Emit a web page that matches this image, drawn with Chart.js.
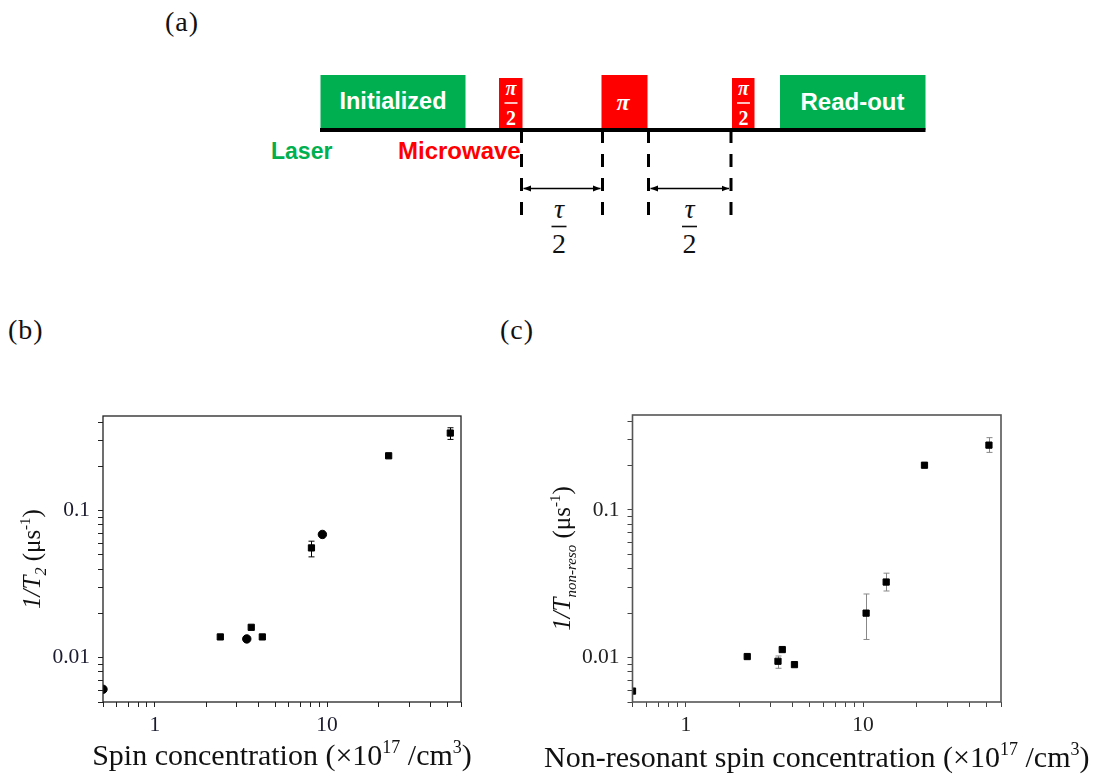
<!DOCTYPE html>
<html><head><meta charset="utf-8">
<script src="https://cdn.jsdelivr.net/npm/chart.js@4.4.1/dist/chart.umd.min.js"></script>
<style>
html,body{margin:0;padding:0;background:#fff;}
#wrap{position:relative;width:1099px;height:779px;overflow:hidden;background:#fff;}
.lbl{position:absolute;font-family:"Liberation Serif",serif;font-size:28px;letter-spacing:1px;color:#111;line-height:1;}
canvas{position:absolute;}
svg{position:absolute;left:0;top:0;}
</style></head><body>
<div id="wrap">
<svg width="1099" height="280" viewBox="0 0 1099 280">
 <defs><marker id="ah" viewBox="0 0 10 10" refX="10" refY="5" markerWidth="5" markerHeight="5" orient="auto-start-reverse"><path d="M0,1 L10,5 L0,9 z" fill="#000"/></marker></defs>
 <rect x="320.5" y="75" width="145" height="55" fill="#00b050"/>
 <rect x="499" y="78" width="23.5" height="52" fill="#ff0000"/>
 <rect x="601.5" y="75" width="46" height="55" fill="#ff0000"/>
 <rect x="732" y="78" width="22.5" height="52" fill="#ff0000"/>
 <rect x="780" y="75" width="145.5" height="55" fill="#00b050"/>
 <line x1="320" y1="130" x2="925.5" y2="130" stroke="#000" stroke-width="4"/>
 <g stroke="#000" stroke-width="3" stroke-dasharray="13 11">
  <line x1="521.5" y1="130" x2="521.5" y2="215"/>
  <line x1="602.5" y1="130" x2="602.5" y2="215"/>
  <line x1="648.5" y1="130" x2="648.5" y2="215"/>
  <line x1="731" y1="130" x2="731" y2="215"/>
 </g>
 <line x1="523.5" y1="188.5" x2="600.5" y2="188.5" stroke="#000" stroke-width="1.5" marker-start="url(#ah)" marker-end="url(#ah)"/>
 <line x1="650.5" y1="188.5" x2="729" y2="188.5" stroke="#000" stroke-width="1.5" marker-start="url(#ah)" marker-end="url(#ah)"/>
 <g font-family="Liberation Sans" font-weight="bold">
  <text x="393" y="109" font-size="24" fill="#fff" text-anchor="middle" textLength="107" lengthAdjust="spacingAndGlyphs">Initialized</text>
  <text x="852.5" y="110" font-size="24" fill="#fff" text-anchor="middle" textLength="104" lengthAdjust="spacingAndGlyphs">Read-out</text>
  <text x="271" y="159" font-size="23" fill="#00b050">Laser</text>
  <text x="398" y="158.5" font-size="24" fill="#ff0000">Microwave</text>
 </g>
 <g font-family="Liberation Serif" font-weight="bold" fill="#fff" text-anchor="middle">
  <text x="623" y="110" font-size="24" font-style="italic">π</text>
  <text x="511" y="95" font-size="20" font-style="italic">π</text>
  <text x="511" y="125" font-size="20">2</text>
  <text x="743.5" y="95" font-size="20" font-style="italic">π</text>
  <text x="743.5" y="125" font-size="20">2</text>
 </g>
 <line x1="504.5" y1="103" x2="517.5" y2="103" stroke="#fff" stroke-width="1.5"/>
 <line x1="737" y1="103" x2="750" y2="103" stroke="#fff" stroke-width="1.5"/>
 <g font-family="Liberation Serif" font-size="28" fill="#111" text-anchor="middle">
  <text x="559" y="218" font-style="italic">τ</text>
  <text x="559" y="253">2</text>
  <text x="689.5" y="218" font-style="italic">τ</text>
  <text x="689.5" y="253">2</text>
 </g>
 <line x1="551.5" y1="226.5" x2="566.5" y2="226.5" stroke="#111" stroke-width="1.6"/>
 <line x1="682" y1="226.5" x2="697" y2="226.5" stroke="#111" stroke-width="1.6"/>
</svg>
<div class="lbl" style="left:165px;top:8px">(a)</div>
<div class="lbl" style="left:8px;top:316px">(b)</div>
<div class="lbl" style="left:500px;top:316px">(c)</div>
<canvas id="cb" width="500" height="399" style="left:0;top:380px"></canvas>
<canvas id="cc" width="599" height="399" style="left:500px;top:380px"></canvas>
</div>
<script>
// ---- data ----
const xTickLabels = ['1', '10'];
const yTickLabels = ['0.01', '0.1'];
const xRange = [0.5, 60];
const yRange = [0.005, 0.44];

// panel (b)
const bSquareX = [2.40, 3.63, 4.21, 8.12, 22.8, 52.0];
const bSquareY = [0.01385, 0.0161, 0.01385, 0.0558, 0.236, 0.337];
const bSquareErrLo = [null, null, null, 0.0485, null, 0.305];
const bSquareErrHi = [null, null, null, 0.062, null, 0.366];
const bCircleX = [0.5, 3.42, 9.40];
const bCircleY = [0.0061, 0.01342, 0.0689];

// panel (c)
const cX = [0.5, 2.22, 3.31, 3.50, 4.10, 10.4, 13.5, 22.2, 51.3];
const cY = [0.00593, 0.01016, 0.00944, 0.01133, 0.00896, 0.0200, 0.0325, 0.201, 0.275];
const cErrLo = [null, null, 0.00846, null, null, 0.01326, 0.02825, null, 0.2455];
const cErrHi = [null, null, 0.01025, null, null, 0.02696, 0.0373, null, 0.309];

const SERIF = '"Liberation Serif", "Times New Roman", serif';
const f = (s, style) => (style ? style + ' ' : '') + s + 'px ' + SERIF;

const bXTitle = [
  {t: 'Spin concentration (×10', f: f(30)}, {t: '17', f: f(18), dy: -12},
  {t: ' /cm', f: f(30)}, {t: '3', f: f(18), dy: -12}, {t: ')', f: f(30)}];
const bYTitle = [
  {t: '1/T', f: f(25, 'italic')}, {t: '2', f: f(16, 'italic'), dy: 6},
  {t: ' (μs', f: f(25)}, {t: '-1', f: f(15), dy: -10}, {t: ')', f: f(25)}];
const cXTitle = [
  {t: 'Non-resonant spin concentration (×10', f: f(30)}, {t: '17', f: f(18), dy: -12},
  {t: ' /cm', f: f(30)}, {t: '3', f: f(18), dy: -12}, {t: ')', f: f(30)}];
const cYTitle = [
  {t: '1/T', f: f(25, 'italic')}, {t: 'non-reso', f: f(15, 'italic'), dy: 6},
  {t: ' (μs', f: f(25)}, {t: '-1', f: f(15), dy: -10}, {t: ')', f: f(25)}];

// ---- helpers ----
function logTicks(min, max) {
  const out = [];
  for (let e = Math.floor(Math.log10(min)); e <= Math.ceil(Math.log10(max)); e++) {
    for (let m = 1; m <= 9; m++) {
      const v = parseFloat((m * Math.pow(10, e)).toPrecision(8));
      if (v >= min * 0.999999 && v <= max * 1.000001) out.push({value: v});
    }
  }
  return out;
}
function labelFor(list) {
  return (v) => list.find(l => Math.abs(Number(l) - v) <= Math.abs(v) * 1e-6) || '';
}
function drawRuns(ctx, runs, cx, by, color) {
  ctx.save();
  ctx.fillStyle = color; ctx.textBaseline = 'alphabetic'; ctx.textAlign = 'left';
  let w = 0;
  runs.forEach(r => { ctx.font = r.f; w += ctx.measureText(r.t).width; });
  let x = cx - w / 2;
  runs.forEach(r => { ctx.font = r.f; ctx.fillText(r.t, x, by + (r.dy || 0)); x += ctx.measureText(r.t).width; });
  ctx.restore();
}

const errorBars = {
  id: 'errorBars',
  beforeDatasetsDraw(chart) {
    const {ctx, scales: {x, y}} = chart;
    chart.data.datasets.forEach(ds => {
      if (!ds.errLo) return;
      ctx.save();
      ctx.strokeStyle = ds.errColor; ctx.lineWidth = 1;
      ds.data.forEach((p, i) => {
        const lo = ds.errLo[i], hi = ds.errHi[i];
        if (lo == null) return;
        const px = Math.round(x.getPixelForValue(p.x)) + 0.5;
        const p1 = y.getPixelForValue(lo), p2 = y.getPixelForValue(hi);
        ctx.beginPath();
        ctx.moveTo(px, p1); ctx.lineTo(px, p2);
        ctx.moveTo(px - 3, p1); ctx.lineTo(px + 3, p1);
        ctx.moveTo(px - 3, p2); ctx.lineTo(px + 3, p2);
        ctx.stroke();
      });
      ctx.restore();
    });
  }
};
const frame = {
  id: 'frame',
  afterDatasetsDraw(chart, args, opts) {
    const {ctx, chartArea: a} = chart;
    ctx.save();
    ctx.strokeStyle = opts.color; ctx.lineWidth = opts.width;
    ctx.strokeRect(a.left, a.top, a.right - a.left, a.bottom - a.top);
    ctx.restore();
  }
};
const titles = {
  id: 'titles',
  afterDraw(chart, args, opts) {
    const {ctx, chartArea: a} = chart;
    drawRuns(ctx, opts.x, (a.left + a.right) / 2, opts.xBaseline, opts.color);
    ctx.save();
    ctx.translate(opts.yBaseline, (a.top + a.bottom) / 2);
    ctx.rotate(-Math.PI / 2);
    drawRuns(ctx, opts.y, 0, 0, opts.color);
    ctx.restore();
  }
};

function makeChart(id, datasets, o) {
  const axisCommon = (range, labels, axis) => ({
    type: 'logarithmic', min: range[0], max: range[1],
    afterBuildTicks: (s) => { s.ticks = logTicks(range[0], range[1]); },
    afterFit: axis === 'x' ? (s) => { s.height = o.xHeight; } : (s) => { s.width = o.yWidth; },
    grid: {display: true, drawOnChartArea: false, drawTicks: true, tickLength: 5,
           color: o.tickColor, tickColor: o.tickColor, tickWidth: 1},
    border: {display: false},
    ticks: {callback: labelFor(labels), autoSkip: false, maxRotation: 0, minRotation: 0,
            padding: axis === 'x' ? 5 : 8, color: o.labelColor,
            font: {family: SERIF, size: 21.5}}
  });
  return new Chart(document.getElementById(id), {
    type: 'scatter',
    data: {datasets},
    options: {
      responsive: false, animation: false, devicePixelRatio: 1,
      layout: {padding: {top: o.top, right: o.right, left: 0, bottom: 0}},
      plugins: {legend: {display: false}, tooltip: {enabled: false},
        frame: {color: o.frameColor, width: o.frameWidth},
        titles: {x: o.xTitle, y: o.yTitle, xBaseline: o.xBaseline, yBaseline: o.yBaseline, color: '#111'}},
      scales: {x: axisCommon(xRange, xTickLabels, 'x'), y: axisCommon(yRange, yTickLabels, 'y')}
    },
    plugins: [errorBars, frame, titles]
  });
}

makeChart('cb', [
  {data: bSquareX.map((x, i) => ({x, y: bSquareY[i]})), pointStyle: 'rect', pointRadius: 4.4,
   backgroundColor: '#000', borderColor: '#000', borderWidth: 1, clip: 0,
   errLo: bSquareErrLo, errHi: bSquareErrHi, errColor: '#000'},
  {data: bCircleX.map((x, i) => ({x, y: bCircleY[i]})), pointStyle: 'circle', pointRadius: 4.2,
   backgroundColor: '#000', borderColor: '#000', borderWidth: 1, clip: 0}
], {top: 36, right: 39, yWidth: 103, xHeight: 77, tickColor: '#222', labelColor: '#1b1b2f',
    frameColor: '#222', frameWidth: 1.3, xTitle: bXTitle, yTitle: bYTitle, xBaseline: 385, yBaseline: 40});

makeChart('cc', [
  {data: cX.map((x, i) => ({x, y: cY[i]})), pointStyle: 'rect', pointRadius: 4.4,
   backgroundColor: '#000', borderColor: '#000', borderWidth: 1, clip: 0,
   errLo: cErrLo, errHi: cErrHi, errColor: '#888'}
], {top: 35, right: 98, yWidth: 132.5, xHeight: 77, tickColor: '#444', labelColor: '#222',
    frameColor: '#555', frameWidth: 1.6, xTitle: cXTitle, yTitle: cYTitle, xBaseline: 387, yBaseline: 70});
</script>
</body></html>
